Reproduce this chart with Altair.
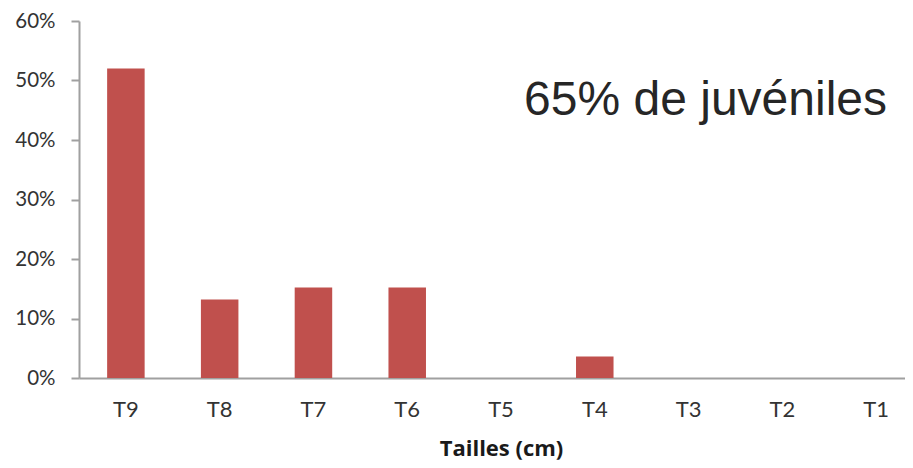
import altair as alt
import pandas as pd

categories = ["T9", "T8", "T7", "T6", "T5", "T4", "T3", "T2", "T1"]
values = [0.520, 0.132, 0.152, 0.152, 0.0, 0.036, 0.0, 0.0, 0.0]
annotation = "65% de juvéniles"

df = pd.DataFrame({"taille": categories, "pct": values})

FONT = "Lato"
axis_gray = "#a0a0a0"

x = alt.X("taille:N", sort=categories, title="Tailles (cm)",
          scale=alt.Scale(range=[0, 844], paddingInner=0.6, paddingOuter=0.3),
          axis=alt.Axis(labelAngle=0, ticks=False, labelFontSize=22, labelFont=FONT,
                        labelColor="#333333", labelPadding=21, domainColor=axis_gray,
                        domainWidth=2, titleFont="Open Sans", titleFontSize=22, titleFontWeight="bold",
                        titleColor="#1a1a1a", titlePadding=18, grid=False))
y = alt.Y("pct:Q", title=None,
          scale=alt.Scale(domain=[0, 0.6], nice=False),
          axis=alt.Axis(format=".0%", values=[0, 0.1, 0.2, 0.3, 0.4, 0.5, 0.6],
                        labelFontSize=20.5, labelFont=FONT, labelColor="#333333",
                        tickSize=8, tickColor=axis_gray, tickWidth=2, labelPadding=16,
                        domainColor=axis_gray, domainWidth=2, grid=False))

bars = alt.Chart(df).mark_bar(color="#C0504D").encode(x=x, y=y)

note = alt.Chart(pd.DataFrame({"t": [annotation], "pct": [0.465]})).mark_text(
    font="Liberation Sans", fontSize=48, color="#262626", align="right", baseline="middle"
).encode(x=alt.value(808), y=y, text="t:N")

chart = alt.layer(bars, note).properties(
    width=826, height=357,
    background="white",
    autosize=alt.AutoSizeParams(type="none"),
    padding={"left": 71, "top": 13, "right": 0, "bottom": 82},
).configure_view(strokeWidth=0, stroke=None)

chart.save("out.html", embed_options={"renderer": "svg", "actions": False})
